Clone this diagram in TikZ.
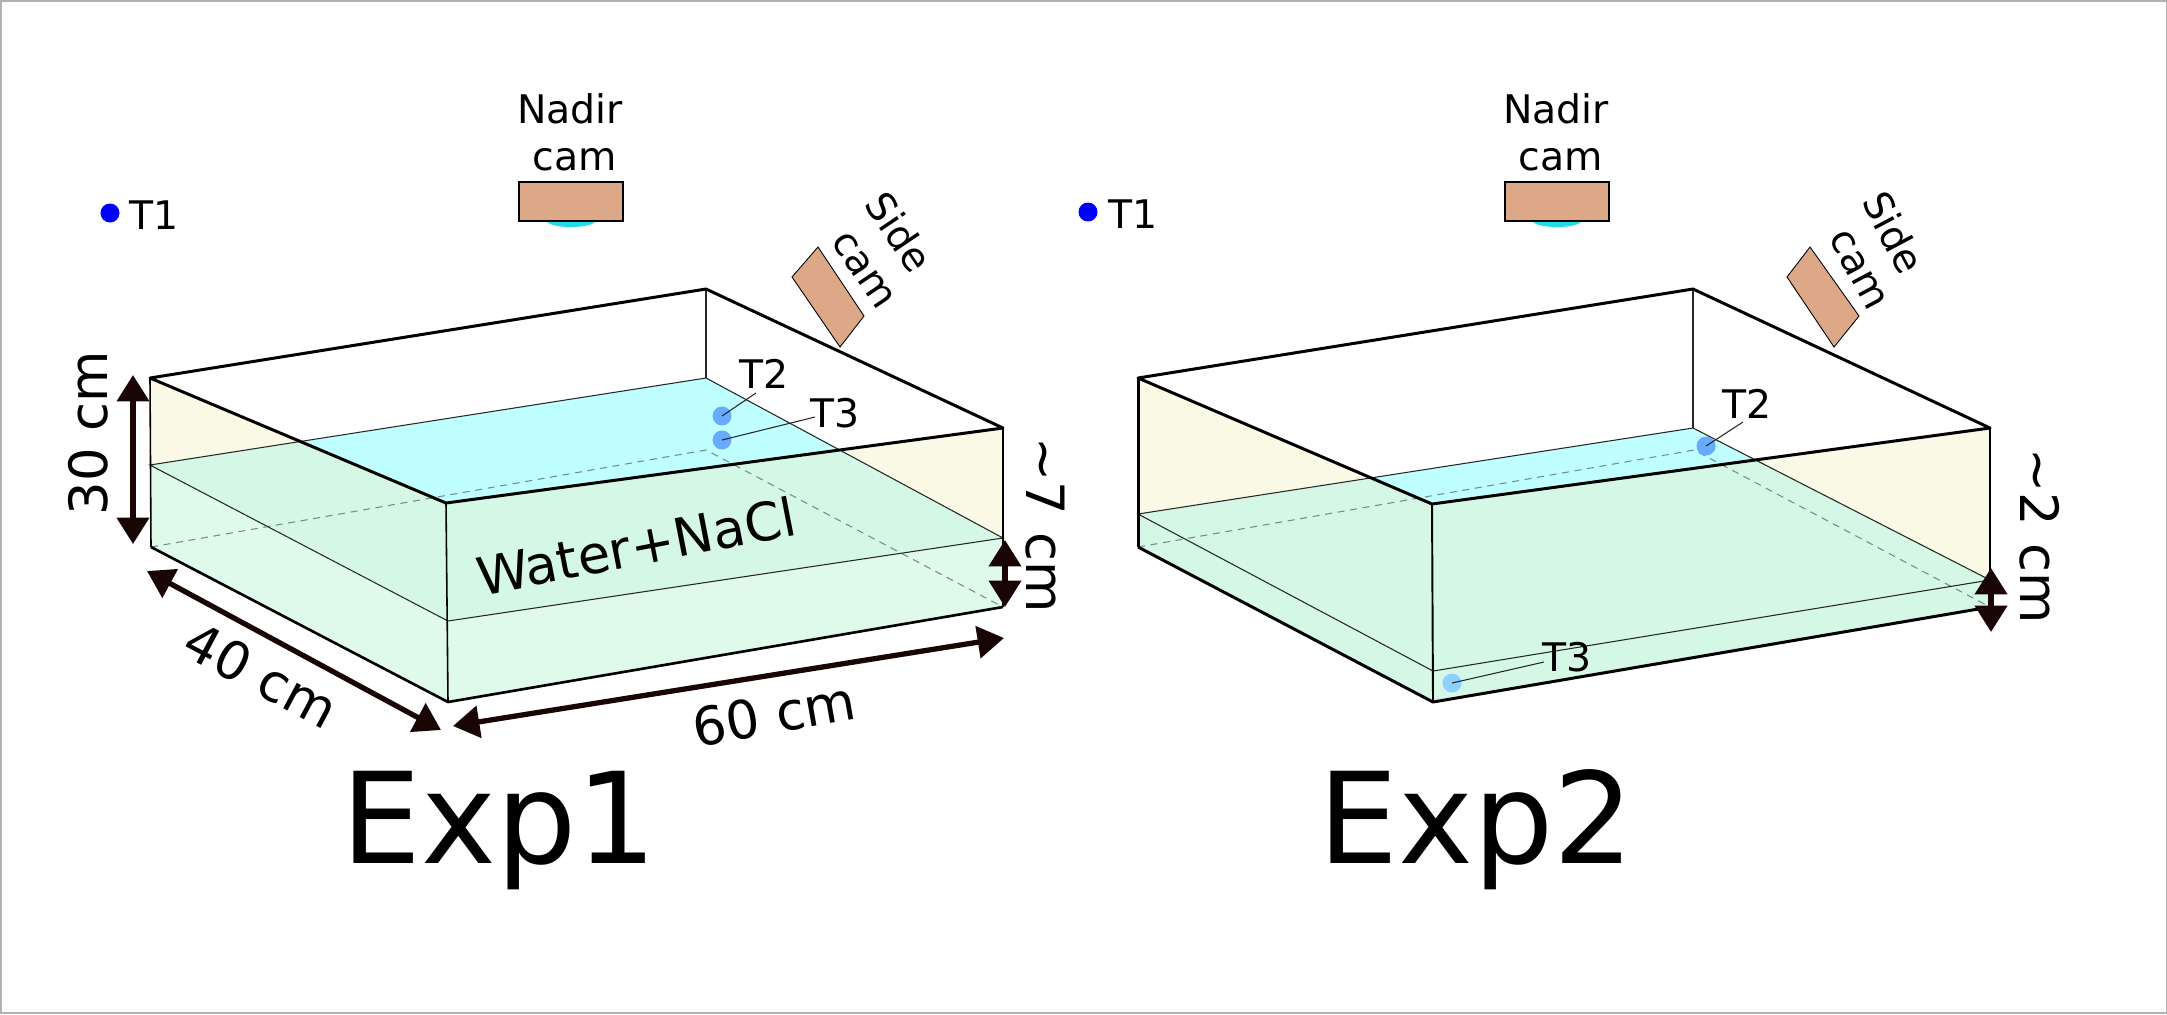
\documentclass[tikz,border=0pt]{standalone}
\usepackage{fontspec}
\setmainfont{DejaVu Sans}
\usepackage{tikz}
\usetikzlibrary{arrows.meta,
    positioning}
\definecolor{wallcolor}{HTML}{FAF9E6}
\definecolor{topwater}{HTML}{C0FFFF}
\definecolor{sidewater}{HTML}{D5F7E6}
\definecolor{lowwater}{HTML}{DFF9EB}
\definecolor{camcolor}{HTML}{DDA888}
\definecolor{lenscolor}{HTML}{22DDE6}
\definecolor{dimcolor}{HTML}{1A0505}
\definecolor{edgedash}{HTML}{6F8F88}
\tikzset{
    rimline/.style={line width=0.85pt,line join=round},
    baseline/.style={line width=0.75pt,line join=round},
    thinline/.style={line width=0.3pt,draw=black!85},
    hiddenline/.style={line width=0.3pt,draw=edgedash,dash pattern=on 2pt off 1.6pt},
    dimarrow/.style={line width=1.5pt,draw=dimcolor,{Triangle[length=7.5pt,width=9pt]}-{Triangle[length=7.5pt,width=9pt]}},
    camnode/.style={draw=black,line width=0.35pt,fill=camcolor,minimum width=1.04cm,minimum height=0.39cm,inner sep=0pt},
    camside/.style={draw=black,line width=0.25pt,fill=camcolor},
    tdot/.style={circle,fill=#1,minimum size=0.19cm,inner sep=0pt},
    tdot/.default={blue!55!cyan!60!white},
    smalltext/.style={font=\fontsize{11.2}{13}\selectfont,inner sep=0pt},
    dimtext/.style={font=\fontsize{15}{18}\selectfont,inner sep=0pt},
    bigtext/.style={font=\fontsize{36}{42}\selectfont,inner sep=0pt}
}
\begin{document}
\begin{tikzpicture}[x=0.01cm,y=-0.01cm]
    \useasboundingbox (0,0) rectangle (2167,1014);
    \draw[line width=0.3pt,draw=black!30] (1,1) rectangle (2166,1013);

    % Exp1 tank
    \coordinate (lTopL) at (150,378);
    \coordinate (lTopB) at (706,289);
    \coordinate (lTopR) at (1003,428);
    \coordinate (lTopF) at (446,503);
    \coordinate (lBotL) at (151,547);
    \coordinate (lBotB) at (706,450);
    \coordinate (lBotR) at (1003,607);
    \coordinate (lBotF) at (448,702);
    \coordinate (lWatL) at (150,465);
    \coordinate (lWatB) at (706,378);
    \coordinate (lWatR) at (1003,538);
    \coordinate (lWatF) at (448,621);
    \coordinate (lCutL) at (301,442);
    \coordinate (lCutR) at (842,451);

    \fill[wallcolor] (lTopL) -- (lWatL) -- (lCutL) -- cycle;
    \fill[wallcolor] (lTopR) -- (lWatR) -- (lCutR) -- cycle;
    \fill[topwater] (lCutL) -- (lWatB) -- (lCutR) -- (lTopF) -- cycle;
    \fill[sidewater] (lWatL) -- (lCutL) -- (lTopF) -- (lCutR) -- (lWatR) -- (lBotR) -- (lBotF) -- (lBotL) -- cycle;
    \fill[lowwater] (lWatL) -- (lWatF) -- (lWatR) -- (lBotR) -- (lBotF) -- (lBotL) -- cycle;

    \draw[hiddenline] (lBotL) -- (lBotB) -- (lBotR);
    \draw[thinline] (lWatL) -- (lWatB) -- (lWatR) -- (lWatF) -- cycle;
    \draw[thinline] (lTopB) -- (lWatB);
    \draw[line width=0.45pt] (lTopL) -- (lBotL);
    \draw[line width=0.45pt] (lTopF) -- (lBotF);
    \draw[line width=0.45pt] (lTopR) -- (lBotR);
    \draw[baseline] (lBotL) -- (lBotF) -- (lBotR);
    \draw[rimline] (lTopL) -- (lTopB) -- (lTopR) -- (lTopF) -- cycle;

    % Exp2 tank
    \coordinate (rTopL) at (1138,378);
    \coordinate (rTopB) at (1693,289);
    \coordinate (rTopR) at (1990,428);
    \coordinate (rTopF) at (1432,504);
    \coordinate (rBotL) at (1138,547);
    \coordinate (rBotB) at (1694,450);
    \coordinate (rBotR) at (1990,607);
    \coordinate (rBotF) at (1433,702);
    \coordinate (rWatL) at (1138,514);
    \coordinate (rWatB) at (1693,428);
    \coordinate (rWatR) at (1990,580);
    \coordinate (rWatF) at (1433,671);
    \coordinate (rCutL) at (1374,478);
    \coordinate (rCutR) at (1758,461);

    \fill[wallcolor] (rTopL) -- (rWatL) -- (rCutL) -- cycle;
    \fill[wallcolor] (rTopR) -- (rWatR) -- (rCutR) -- cycle;
    \fill[topwater] (rCutL) -- (rWatB) -- (rCutR) -- (rTopF) -- cycle;
    \fill[sidewater] (rWatL) -- (rCutL) -- (rTopF) -- (rCutR) -- (rWatR) -- (rBotR) -- (rBotF) -- (rBotL) -- cycle;

    \draw[hiddenline] (rBotL) -- (rBotB) -- (rBotR);
    \draw[thinline] (rWatL) -- (rWatB) -- (rWatR) -- (rWatF) -- cycle;
    \draw[thinline] (rTopB) -- (rWatB);
    \draw[rimline] (rTopL) -- (rBotL);
    \draw[line width=0.55pt] (rTopF) -- (rBotF);
    \draw[line width=0.55pt] (rTopR) -- (rBotR);
    \draw[rimline] (rBotL) -- (rBotF) -- (rBotR);
    \draw[rimline] (rTopL) -- (rTopB) -- (rTopR) -- (rTopF) -- cycle;

    % cameras
    \fill[lenscolor] (571,221) ellipse (24 and 6);
    \node[camnode] (nadirA) at (571,201.5) {};
    \node[smalltext] (nadirTxtA) at (570,109) {Nadir};
    \node[smalltext] (nadirCamA) at (575,160) {cam};
    \filldraw[camside] (818,247) -- (792,277) -- (840,347) -- (864,316) -- cycle;
    \node[smalltext,rotate=-56] (sideTxtA) at (899,232) {Side};
    \node[smalltext,rotate=-56] (sideCamA) at (863,270) {cam};

    \fill[lenscolor] (1557,221) ellipse (24 and 6);
    \node[camnode] (nadirB) at (1557,201.5) {};
    \node[smalltext] (nadirTxtB) at (1556,109) {Nadir};
    \node[smalltext] (nadirCamB) at (1561,160) {cam};
    \filldraw[camside] (1810,247) -- (1787,277) -- (1834,347) -- (1859,316) -- cycle;
    \node[smalltext,rotate=-62] (sideTxtB) at (1894,232) {Side};
    \node[smalltext,rotate=-62] (sideCamB) at (1858,270) {cam};

    % sensors
    \node[tdot=blue] (t1a) at (110,213) {};
    \node[smalltext] (t1aTxt) at (154,215) {T1};
    \node[tdot] (t2a) at (722,416) {};
    \node[smalltext] (t2aTxt) at (764,374) {T2};
    \node[tdot] (t3a) at (722,440) {};
    \node[smalltext] (t3aTxt) at (835,413) {T3};
    \coordinate (t2aEnd) at (756,393);
    \coordinate (t3aEnd) at (815,417);
    \draw[thinline] (t2a.center) -- (t2aEnd);
    \draw[thinline] (t3a.center) -- (t3aEnd);

    \node[tdot=blue] (t1b) at (1088,212) {};
    \node[smalltext] (t1bTxt) at (1133,214) {T1};
    \node[tdot] (t2b) at (1706,446) {};
    \node[smalltext] (t2bTxt) at (1747,404) {T2};
    \node[tdot=blue!40!cyan!45!white] (t3b) at (1452,683) {};
    \node[smalltext] (t3bTxt) at (1567,657) {T3};
    \coordinate (t2bEnd) at (1743,422);
    \coordinate (t3bEnd) at (1544,662);
    \draw[thinline] (t2b.center) -- (t2bEnd);
    \draw[thinline] (t3b.center) -- (t3bEnd);

    % dimensions
    \coordinate (dim30a) at (133,375);
    \coordinate (dim30b) at (133,544);
    \coordinate (dim40a) at (147,571);
    \coordinate (dim40b) at (441,730);
    \coordinate (dim60a) at (453,726);
    \coordinate (dim60b) at (1004,638);
    \coordinate (dim7a) at (1005,540);
    \coordinate (dim7b) at (1005,607);
    \coordinate (dim2a) at (1991,568);
    \coordinate (dim2b) at (1991,632);
    \draw[dimarrow] (dim30a) -- (dim30b);
    \draw[dimarrow] (dim40a) -- (dim40b);
    \draw[dimarrow] (dim60a) -- (dim60b);
    \draw[dimarrow] (dim7a) -- (dim7b);
    \draw[dimarrow] (dim2a) -- (dim2b);

    \node[dimtext,rotate=90] (lab30) at (88,433) {30 cm};
    \node[dimtext,rotate=-28] (lab40) at (261,675) {40 cm};
    \node[dimtext,rotate=10] (lab60) at (774,714) {60 cm};
    \node[dimtext,rotate=-90] (lab7) at (1045,525) {\textasciitilde7 cm};
    \node[dimtext,rotate=-90] (lab2) at (2040,536) {\textasciitilde2 cm};
    \node[dimtext,rotate=11] (labWater) at (636,546) {Water+NaCl};

    \node[bigtext] (expA) at (499,830) {Exp1};
    \node[bigtext] (expB) at (1476,830) {Exp2};
\end{tikzpicture}
\end{document}
